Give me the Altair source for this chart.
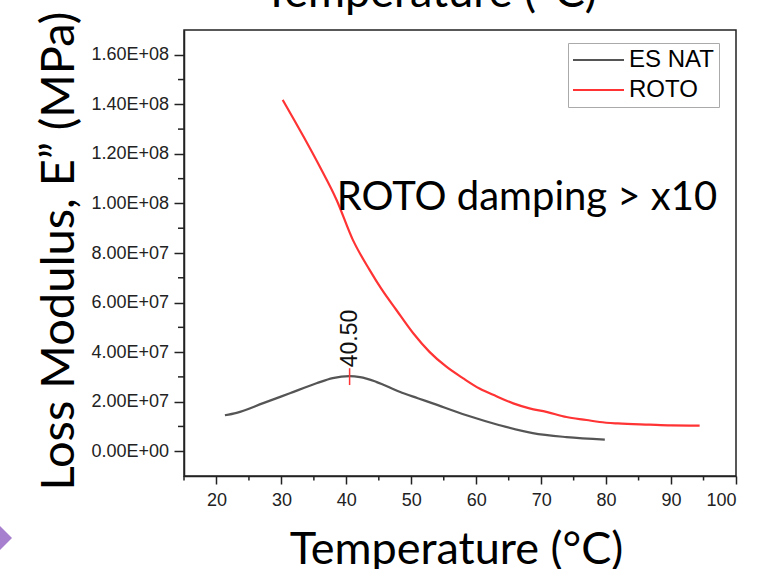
import altair as alt
import pandas as pd

# ---- data ----
series_names = ["ES NAT", "ROTO"]
series_colors = ["#555555", "#ff3333"]

es_nat_temp = [21.3, 23.1, 27.2, 31.3, 35.4, 37.9, 40.5, 42.1, 44.6, 48.2,
               51.0, 53.3, 58.5, 63.6, 68.7, 73.9, 79.8]
es_nat_val = [14.5e6, 15.5e6, 19.4e6, 23.4e6, 27.4e6, 29.5e6, 30.3e6, 29.9e6,
              28.0e6, 24.0e6, 21.4e6, 19.3e6, 14.5e6, 10.5e6, 7.3e6, 5.7e6, 4.7e6]

roto_temp = [30.2, 33.4, 35.9, 38.5, 41.0, 43.6, 45.4, 47.7, 50.3, 52.8, 55.4,
             58.0, 60.5, 63.1, 65.7, 68.2, 70.8, 73.9, 77.0, 79.0, 81.8, 86.7,
             90.0, 94.4]
roto_val = [141.8e6, 127.0e6, 114.9e6, 101.4e6, 85.3e6, 73.1e6, 65.5e6, 57.0e6,
            47.6e6, 40.1e6, 34.1e6, 29.4e6, 25.3e6, 22.2e6, 19.3e6, 17.3e6,
            15.9e6, 13.8e6, 12.6e6, 11.8e6, 11.2e6, 10.7e6, 10.4e6, 10.3e6]

peak_temp = [40.5]
peak_low = [26.7e6]
peak_high = [33.5e6]
peak_label = ["40.50"]

note_temp = [67.8]
note_val = [97.4e6]
note_text = ["ROTO damping > x10"]

x_major = list(range(20, 101, 10))
x_minor = list(range(15, 100, 10))
y_major = [i * 20_000_000 for i in range(0, 9)]
y_minor = [10_000_000 + i * 20_000_000 for i in range(0, 8)]

x_title = "Temperature (°C)"
y_title = "Loss Modulus, E\u201d (MPa)"

SLIDE_FONT = "Lato"
AXIS_FONT = "Liberation Sans"
AXIS_COLOR = "#222222"

lines_df = pd.DataFrame({
    "temp": es_nat_temp + roto_temp,
    "val": es_nat_val + roto_val,
    "series": [series_names[0]] * len(es_nat_temp) + [series_names[1]] * len(roto_temp),
})
peak_df = pd.DataFrame({"temp": peak_temp, "low": peak_low, "high": peak_high, "label": peak_label})
note_df = pd.DataFrame({"temp": note_temp, "val": note_val, "text": note_text})

x_scale = alt.Scale(domain=[15, 100], nice=False, zero=False)
y_scale = alt.Scale(domain=[-10_000_000, 170_000_000], nice=False, zero=False)

y_label_expr = (
    "datum.value == 0 ? '0.00E+00' : "
    "format(datum.value / pow(10, floor(log(datum.value) / LN10 + 1e-9)), '.2f') + 'E+' + "
    "(floor(log(datum.value) / LN10 + 1e-9) < 10 ? '0' : '') + floor(log(datum.value) / LN10 + 1e-9)"
)

x_axis = alt.Axis(
    values=x_major,
    format="d",
    tickSize=8,
    labelPadding=7,
    labelOverlap=False,
    title=x_title,
    titleFont=SLIDE_FONT,
    titleFontSize=45,
    titleFontWeight="normal",
    titleColor="black",
    titleX=272,
    titleY=87,
    titleBaseline="alphabetic",
    titleAlign="center",
    grid=False,
)
y_axis = alt.Axis(
    values=y_major,
    labelExpr=y_label_expr,
    tickSize=10,
    labelPadding=5.5,
    labelOverlap=False,
    title=y_title,
    titleFont=SLIDE_FONT,
    titleFontSize=47,
    titleFontWeight="normal",
    titleColor="black",
    titleAngle=270,
    titleX=-111,
    titleY=460,
    titleAlign="left",
    titleBaseline="alphabetic",
    grid=False,
)

legend = alt.Legend(
    title=None,
    orient="none",
    legendX=384,
    legendY=13,
    symbolType="M-2.4,0H7.8",
    symbolSize=100,
    symbolStrokeWidth=2.2,
    labelFont=AXIS_FONT,
    labelFontSize=24,
    labelColor="black",
    labelOffset=32,
    strokeColor="#aaaaaa",
    fillColor="white",
    padding=5,
    rowPadding=6,
)

lines = alt.Chart(lines_df).mark_line(strokeWidth=2.2, interpolate="monotone").encode(
    x=alt.X("temp:Q", scale=x_scale, axis=x_axis),
    y=alt.Y("val:Q", scale=y_scale, axis=y_axis),
    color=alt.Color("series:N", scale=alt.Scale(domain=series_names, range=series_colors),
                    legend=legend, sort=series_names),
)

# minor ticks (shorter), positioned through the shared scales
x_minor_ticks = alt.Chart(pd.DataFrame({"t": x_minor})).mark_rule(
    color=AXIS_COLOR, strokeWidth=1.5
).encode(x="t:Q", y=alt.value(446), y2=alt.value(450.5))

y_minor_ticks = alt.Chart(pd.DataFrame({"v": y_minor})).mark_rule(
    color=AXIS_COLOR, strokeWidth=1.5
).encode(y="v:Q", x=alt.value(0), x2=alt.value(-6))

peak_rule = alt.Chart(peak_df).mark_rule(color="#ff3333", strokeWidth=1.5).encode(
    x="temp:Q", y="low:Q", y2="high:Q"
)

peak_text = alt.Chart(peak_df).mark_text(
    angle=270, align="left", baseline="middle", font=AXIS_FONT, fontSize=23,
    color="#111111", dx=1,
).encode(x="temp:Q", y="high:Q", text="label:N")

note = alt.Chart(note_df).mark_text(
    align="center", baseline="alphabetic", font=SLIDE_FONT, fontSize=40, color="black"
).encode(x="temp:Q", y="val:Q", text="text:N")

top_title = alt.Chart(pd.DataFrame({"t": [x_title]})).mark_text(
    align="center", baseline="alphabetic", font=SLIDE_FONT, fontSize=45, color="black"
).encode(x=alt.value(246), y=alt.value(-23), text="t:N")

bullet = alt.Chart(pd.DataFrame({"s": ["bullet"]})).mark_point(
    shape="diamond", filled=True, size=729, color="#a77fcf", opacity=1
).encode(x=alt.value(-185.5), y=alt.value(508))

chart = alt.layer(
    lines, x_minor_ticks, y_minor_ticks, peak_rule, peak_text, note, top_title, bullet
).properties(
    width=552,
    height=446,
    autosize=alt.AutoSizeParams(type="none"),
    padding={"left": 184, "top": 30, "right": 39, "bottom": 93},
    background="white",
).configure_view(
    stroke=AXIS_COLOR, strokeWidth=1.5
).configure_axis(
    domainColor=AXIS_COLOR, domainWidth=1.5,
    tickColor=AXIS_COLOR, tickWidth=1.5,
    labelColor=AXIS_COLOR, labelFont=AXIS_FONT, labelFontSize=18,
)

chart.save("out.html", embed_options={"renderer": "svg", "actions": False})
